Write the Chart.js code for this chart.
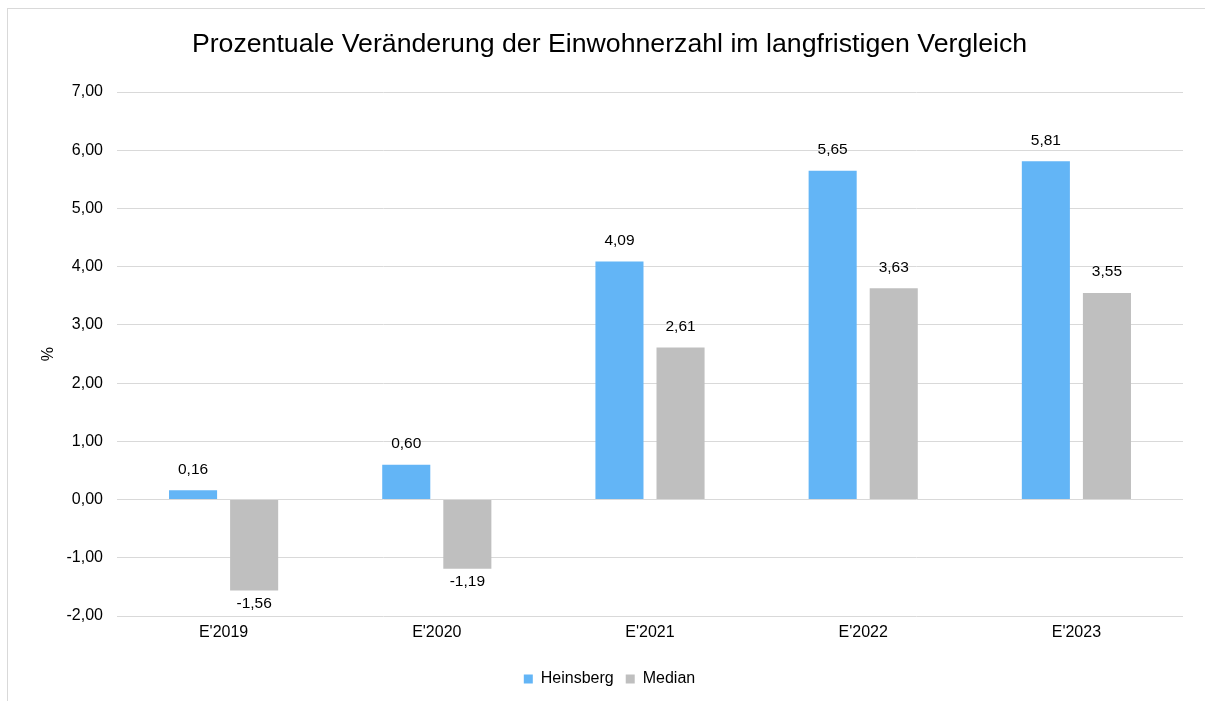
<!DOCTYPE html>
<html>
<head>
<meta charset="utf-8">
<script src="https://cdn.jsdelivr.net/npm/chart.js@4.4.1/dist/chart.umd.min.js"></script>
<style>
  html, body { margin: 0; padding: 0; background: #fff; overflow: hidden; }
  #frame { position: absolute; left: 7px; top: 8px; width: 1300px; height: 800px; border-left: 1px solid #d9d9d9; border-top: 1px solid #d9d9d9; }
  #wrap { position: absolute; left: 0; top: 0; width: 1205px; height: 701px; }
</style>
</head>
<body>
<div id="frame"></div>
<div id="wrap"><canvas id="chart"></canvas></div>
<script>
// chart data
const categories = ["E'2019", "E'2020", "E'2021", "E'2022", "E'2023"];
const heinsberg = [0.16, 0.60, 4.09, 5.65, 5.81];
const median = [-1.56, -1.19, 2.61, 3.63, 3.55];
const yTicks = [-2, -1, 0, 1, 2, 3, 4, 5, 6, 7];

const fmt = v => v.toFixed(2).replace('.', ',');

// simple value labels above / below each bar
const valueLabels = {
    id: 'valueLabels',
    afterDatasetsDraw(chart) {
        const ctx = chart.ctx;
        ctx.save();
        ctx.font = '15.5px "Liberation Sans", Arial, sans-serif';
        ctx.fillStyle = '#000';
        ctx.textAlign = 'center';
        ctx.textBaseline = 'middle';
        chart.data.datasets.forEach((ds, i) => {
            chart.getDatasetMeta(i).data.forEach((bar, j) => {
                const v = ds.data[j];
                const y = v >= 0 ? bar.y - 21 : bar.y + 13;
                ctx.fillText(fmt(v), bar.x, y);
            });
        });
        ctx.restore();
    }
};

Chart.defaults.font.family = '"Liberation Sans", Arial, sans-serif';
Chart.defaults.font.size = 16;
Chart.defaults.color = '#000';

new Chart(document.getElementById('chart'), {
    type: 'bar',
    data: {
        labels: categories,
        datasets: [
            { label: 'Heinsberg', data: heinsberg, backgroundColor: '#63b5f6' },
            { label: 'Median', data: median, backgroundColor: '#bfbfbf' }
        ]
    },
    options: {
        responsive: true,
        maintainAspectRatio: false,
        animation: false,
        categoryPercentage: 0.573,
        barPercentage: 0.787,
        layout: { padding: { left: 36, right: 22, top: 0, bottom: 4 } },
        plugins: {
            title: {
                display: true,
                text: 'Prozentuale Veränderung der Einwohnerzahl im langfristigen Vergleich',
                font: { size: 26.7, weight: 'normal' },
                color: '#000',
                padding: { top: 29, bottom: 31 }
            },
            legend: {
                position: 'bottom',
                labels: { boxWidth: 9, boxHeight: 9, padding: 12, font: { size: 16 } }
            },
            tooltip: { enabled: false }
        },
        scales: {
            x: {
                grid: { display: false, drawTicks: false },
                border: { display: false },
                ticks: { padding: 7 },
                afterFit: s => { s.height = 43; }
            },
            y: {
                min: -2,
                max: 7,
                afterBuildTicks: s => { s.ticks = yTicks.map(v => ({ value: v })); },
                afterFit: s => { s.width = 117 - 36; },
                ticks: { padding: 14, callback: v => fmt(v) },
                grid: { color: '#d9d9d9', lineWidth: 1, drawTicks: false },
                border: { display: false },
                title: { display: true, text: '%', padding: { top: 3, bottom: 0 }, font: { size: 16 } }
            }
        }
    },
    plugins: [valueLabels]
});
</script>
</body>
</html>
